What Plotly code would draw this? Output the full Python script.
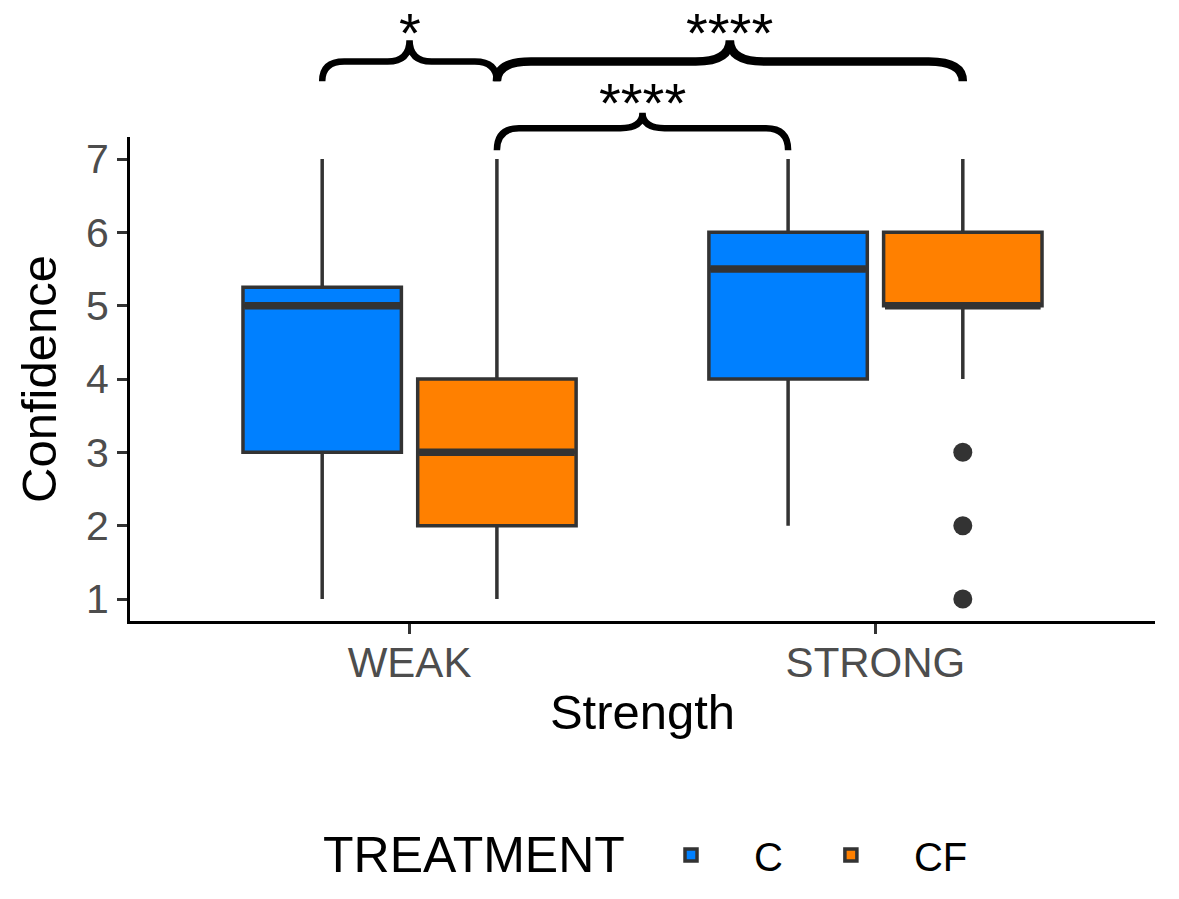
import plotly.graph_objects as go

# ---- data ----
strengths = ["WEAK", "STRONG"]
treatments = ["C", "CF"]
colors = {"C": "#0080FF", "CF": "#FF8000"}

lower_whisker = {"C": [1, 2], "CF": [1, 4]}
q1_vals = {"C": [3, 4], "CF": [2, 5]}
median_vals = {"C": [5, 5.5], "CF": [3, 5]}
q3_vals = {"C": [5.25, 6], "CF": [4, 6]}
upper_whisker = {"C": [7, 7], "CF": [7, 7]}
outliers_strong_cf = [3, 2, 1]

# significance comparisons: (treatment_a, strength_a, treatment_b, strength_b, label, level)
comparisons = [
    ("C", "WEAK", "CF", "WEAK", "*", "high"),
    ("CF", "WEAK", "CF", "STRONG", "****", "high"),
    ("CF", "WEAK", "C", "STRONG", "****", "low"),
]

# ---- geometry helpers ----
cat_pos = {s: i + 1 for i, s in enumerate(strengths)}
dodge = {"C": -0.1875, "CF": 0.1875}
box_w = 0.34
PX_PER_X = 465.0
PX_PER_Y = 73.333
PLOT_W = 1025
PLOT_H = 621


def xpos(t, s):
    return cat_pos[s] + dodge[t]


fig = go.Figure()

for t in treatments:
    xs = [xpos(t, s) for s in strengths]
    fig.add_trace(go.Box(
        x=xs, q1=q1_vals[t], median=median_vals[t], q3=q3_vals[t],
        lowerfence=lower_whisker[t], upperfence=upper_whisker[t],
        width=box_w, whiskerwidth=0, name=t,
        fillcolor=colors[t], line=dict(color="#333333", width=3.5),
        boxpoints=False, hoverinfo="skip",
    ))

# thicker median lines
for t in treatments:
    mx, my = [], []
    for i, s in enumerate(strengths):
        xc = xpos(t, s)
        mx += [xc - box_w / 2 + 0.003, xc + box_w / 2 - 0.003, None]
        my += [median_vals[t][i], median_vals[t][i], None]
    fig.add_trace(go.Scatter(x=mx, y=my, mode="lines", line=dict(color="#333333", width=7.5),
                             showlegend=False, hoverinfo="skip"))

# outliers
fig.add_trace(go.Scatter(
    x=[xpos("CF", "STRONG")] * len(outliers_strong_cf), y=outliers_strong_cf,
    mode="markers", marker=dict(color="#333333", size=19), showlegend=False, hoverinfo="skip"))

# braces on full-height axis y2 (same units as y)
levels = {
    "high": dict(end=8.06, flat=8.33, tip=8.62, text=8.27),
    "low": dict(end=7.12, flat=7.42, tip=7.63, text=7.31),
}
for ta, sa, tb, sb, lab, lev in comparisons:
    x0, x1 = xpos(ta, sa), xpos(tb, sb)
    L = levels[lev]
    span_px = (x1 - x0) * PX_PER_X
    big = span_px > 400
    r = (34 if big else 22) / PX_PER_X
    lw = 8.5 if big else 6.5
    xm = (x0 + x1) / 2
    y0, y1, y2 = L["end"], L["flat"], L["tip"]
    path = (f"M{x0},{y0} Q{x0},{y1} {x0 + r},{y1} L{xm - r},{y1} Q{xm},{y1} {xm},{y2} "
            f"Q{xm},{y1} {xm + r},{y1} L{x1 - r},{y1} Q{x1},{y1} {x1},{y0}")
    fig.add_shape(type="path", path=path, xref="x", yref="y2",
                  line=dict(color="black", width=lw))
    fig.add_annotation(x=xm, y=L["text"], xref="x", yref="y2", text=lab, showarrow=False,
                       yanchor="bottom", font=dict(size=56, color="black", family="Liberation Sans"))

FONT = "Liberation Sans"
legend_y = -(855 - PLOT_H) / PLOT_H
legend_x = (628 - 130) / PLOT_W

# legend title as text
fig.add_annotation(x=legend_x - 0.001, y=legend_y, xref="paper", yref="paper", text="TREATMENT",
                   showarrow=False, xanchor="right", yanchor="middle",
                   font=dict(size=50, color="black", family=FONT))

fig.update_layout(
    width=1179, height=899,
    margin=dict(l=130, r=24, t=0, b=278, autoexpand=False),
    plot_bgcolor="rgba(0,0,0,0)", paper_bgcolor="white",
    boxmode="overlay",
    font=dict(family=FONT, color="black"),
    xaxis=dict(range=[0.4, 2.6], tickvals=[1, 2], ticktext=strengths,
               showline=True, linecolor="black", linewidth=3, showgrid=False, zeroline=False,
               ticks="outside", ticklen=10, tickwidth=3, tickcolor="#333333",
               tickfont=dict(size=42, color="#4D4D4D", family=FONT), ticklabelstandoff=-7,
               title=dict(text="Strength", font=dict(size=49, color="black", family=FONT), standoff=10)),
    yaxis=dict(domain=[0, (PLOT_H - 137) / PLOT_H], range=[0.7, 7.3], tickvals=[1, 2, 3, 4, 5, 6, 7],
               showline=True, linecolor="black", linewidth=3, showgrid=False, zeroline=False,
               ticks="outside", ticklen=10, tickwidth=3, tickcolor="#333333",
               tickfont=dict(size=41, color="#4D4D4D", family=FONT),
               title=dict(text="Confidence", font=dict(size=49, color="black", family=FONT), standoff=14)),
    yaxis2=dict(domain=[0, 1], range=[0.7, 0.7 + PLOT_H / PX_PER_Y], visible=False, anchor="x"),
    legend=dict(orientation="h", x=legend_x, xanchor="left", y=legend_y, yanchor="middle",
                font=dict(size=40, color="black", family=FONT),
                itemwidth=116),
)

fig.write_html("out.html", config={"displayModeBar": False},
               post_script="document.body.style.margin='0px';")
